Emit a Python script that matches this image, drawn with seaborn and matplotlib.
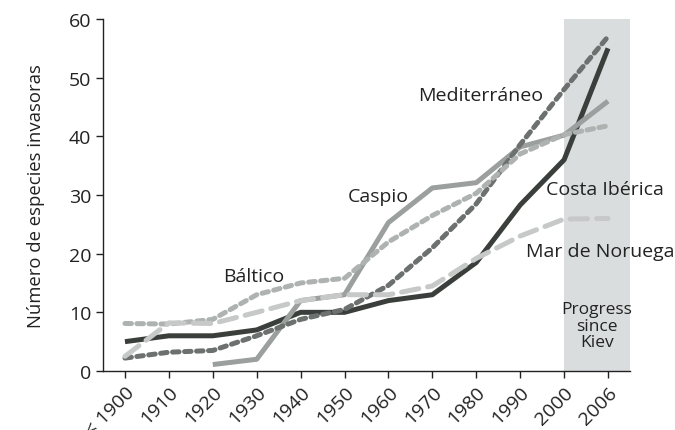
import pandas as pd
import matplotlib.pyplot as plt
import seaborn as sns

# Data
periods = ["< 1900", "1910", "1920", "1930", "1940", "1950", "1960",
           "1970", "1980", "1990", "2000", "2006"]
costa_iberica = [5, 6, 6, 7, 10, 10, 12, 13, 18.5, 28.3, 36, 55]
caspio = [None, None, 1.1, 2, 12, 13, 25.3, 31.2, 32.1, 38.2, 40.2, 46]
mediterraneo = [2.2, 3.2, 3.5, 6, 8.8, 10.5, 14.6, 21, 28.5, 38.6, 48, 57]
baltico = [8.1, 8, 8.8, 13, 15, 15.8, 22, 26.5, 30.3, 37, 40.3, 41.8]
mar_noruega = [2.5, 8.2, 8.1, 10, 12, 13, 13, 14.5, 19.2, 23, 25.9, 26]

series = {
    "Costa Ibérica": costa_iberica,
    "Caspio": caspio,
    "Mediterráneo": mediterraneo,
    "Báltico": baltico,
    "Mar de Noruega": mar_noruega,
}

rows = []
for name, vals in series.items():
    for i, v in enumerate(vals):
        if v is not None:
            rows.append({"pos": i, "value": v, "region": name})
df = pd.DataFrame(rows)

palette = {
    "Costa Ibérica": "#3b3f3c",
    "Caspio": "#9b9f9e",
    "Mediterráneo": "#6c706f",
    "Báltico": "#aeb2b1",
    "Mar de Noruega": "#c6c9c8",
}
dashes = {
    "Costa Ibérica": "",
    "Caspio": "",
    "Mediterráneo": (1.3, 1.1),
    "Báltico": (1.3, 1.1),
    "Mar de Noruega": (3.5, 1.8),
}

sns.set_style("ticks")
plt.rcParams['font.family'] = ['Open Sans', 'DejaVu Sans']

fig = plt.figure(figsize=(6.75, 4.31), dpi=100)
ax = fig.add_axes([0.1526, 0.1369, 0.7807, 0.8167])

# "Progress since Kiev" shading
ax.axvspan(10, 11.5, color="#d9dddd", zorder=0, lw=0)

sns.lineplot(data=df, x="pos", y="value", hue="region", style="region",
             palette=palette, dashes=dashes, linewidth=3.6, legend=False,
             ax=ax, zorder=3)
for line in ax.get_lines():
    line.set_dash_capstyle("round")
    line.set_solid_capstyle("butt")

ax.set_xlim(-0.5, 11.5)
ax.set_ylim(0, 60)
ax.set_yticks(range(0, 61, 10))
ax.set_xticks(range(len(periods)))
ax.set_xticklabels(periods, rotation=45, ha="right", va="top",
                   rotation_mode="anchor", fontsize=14)
ax.tick_params(axis="y", labelsize=14, length=5, width=1, color="#222222",
               labelcolor="#222222")
ax.tick_params(axis="x", length=5, width=1, color="#222222",
               labelcolor="#222222")
ax.set_xlabel("")
ax.set_ylabel("Número de especies invasoras", fontsize=13.3, labelpad=17,
              color="#222222")
sns.despine(ax=ax)
for s in ["left", "bottom"]:
    ax.spines[s].set_linewidth(1)
    ax.spines[s].set_color("#222222")

# Series labels
lab = dict(fontsize=14, color="#222222", zorder=5, ha="center", va="center")
ax.text(8.1, 47.0, "Mediterráneo", **lab)
ax.text(5.76, 29.8, "Caspio", **lab)
ax.text(2.94, 16.2, "Báltico", **lab)
ax.text(10.93, 31.0, "Costa Ibérica", **lab)
ax.text(10.82, 20.4, "Mar de Noruega", **lab)
ax.text(10.75, 7.7, "Progress\nsince\nKiev", ha="center", va="center",
        fontsize=12.5, color="#222222", linespacing=1.05, zorder=5)

fig.savefig("out.png", dpi=100)
